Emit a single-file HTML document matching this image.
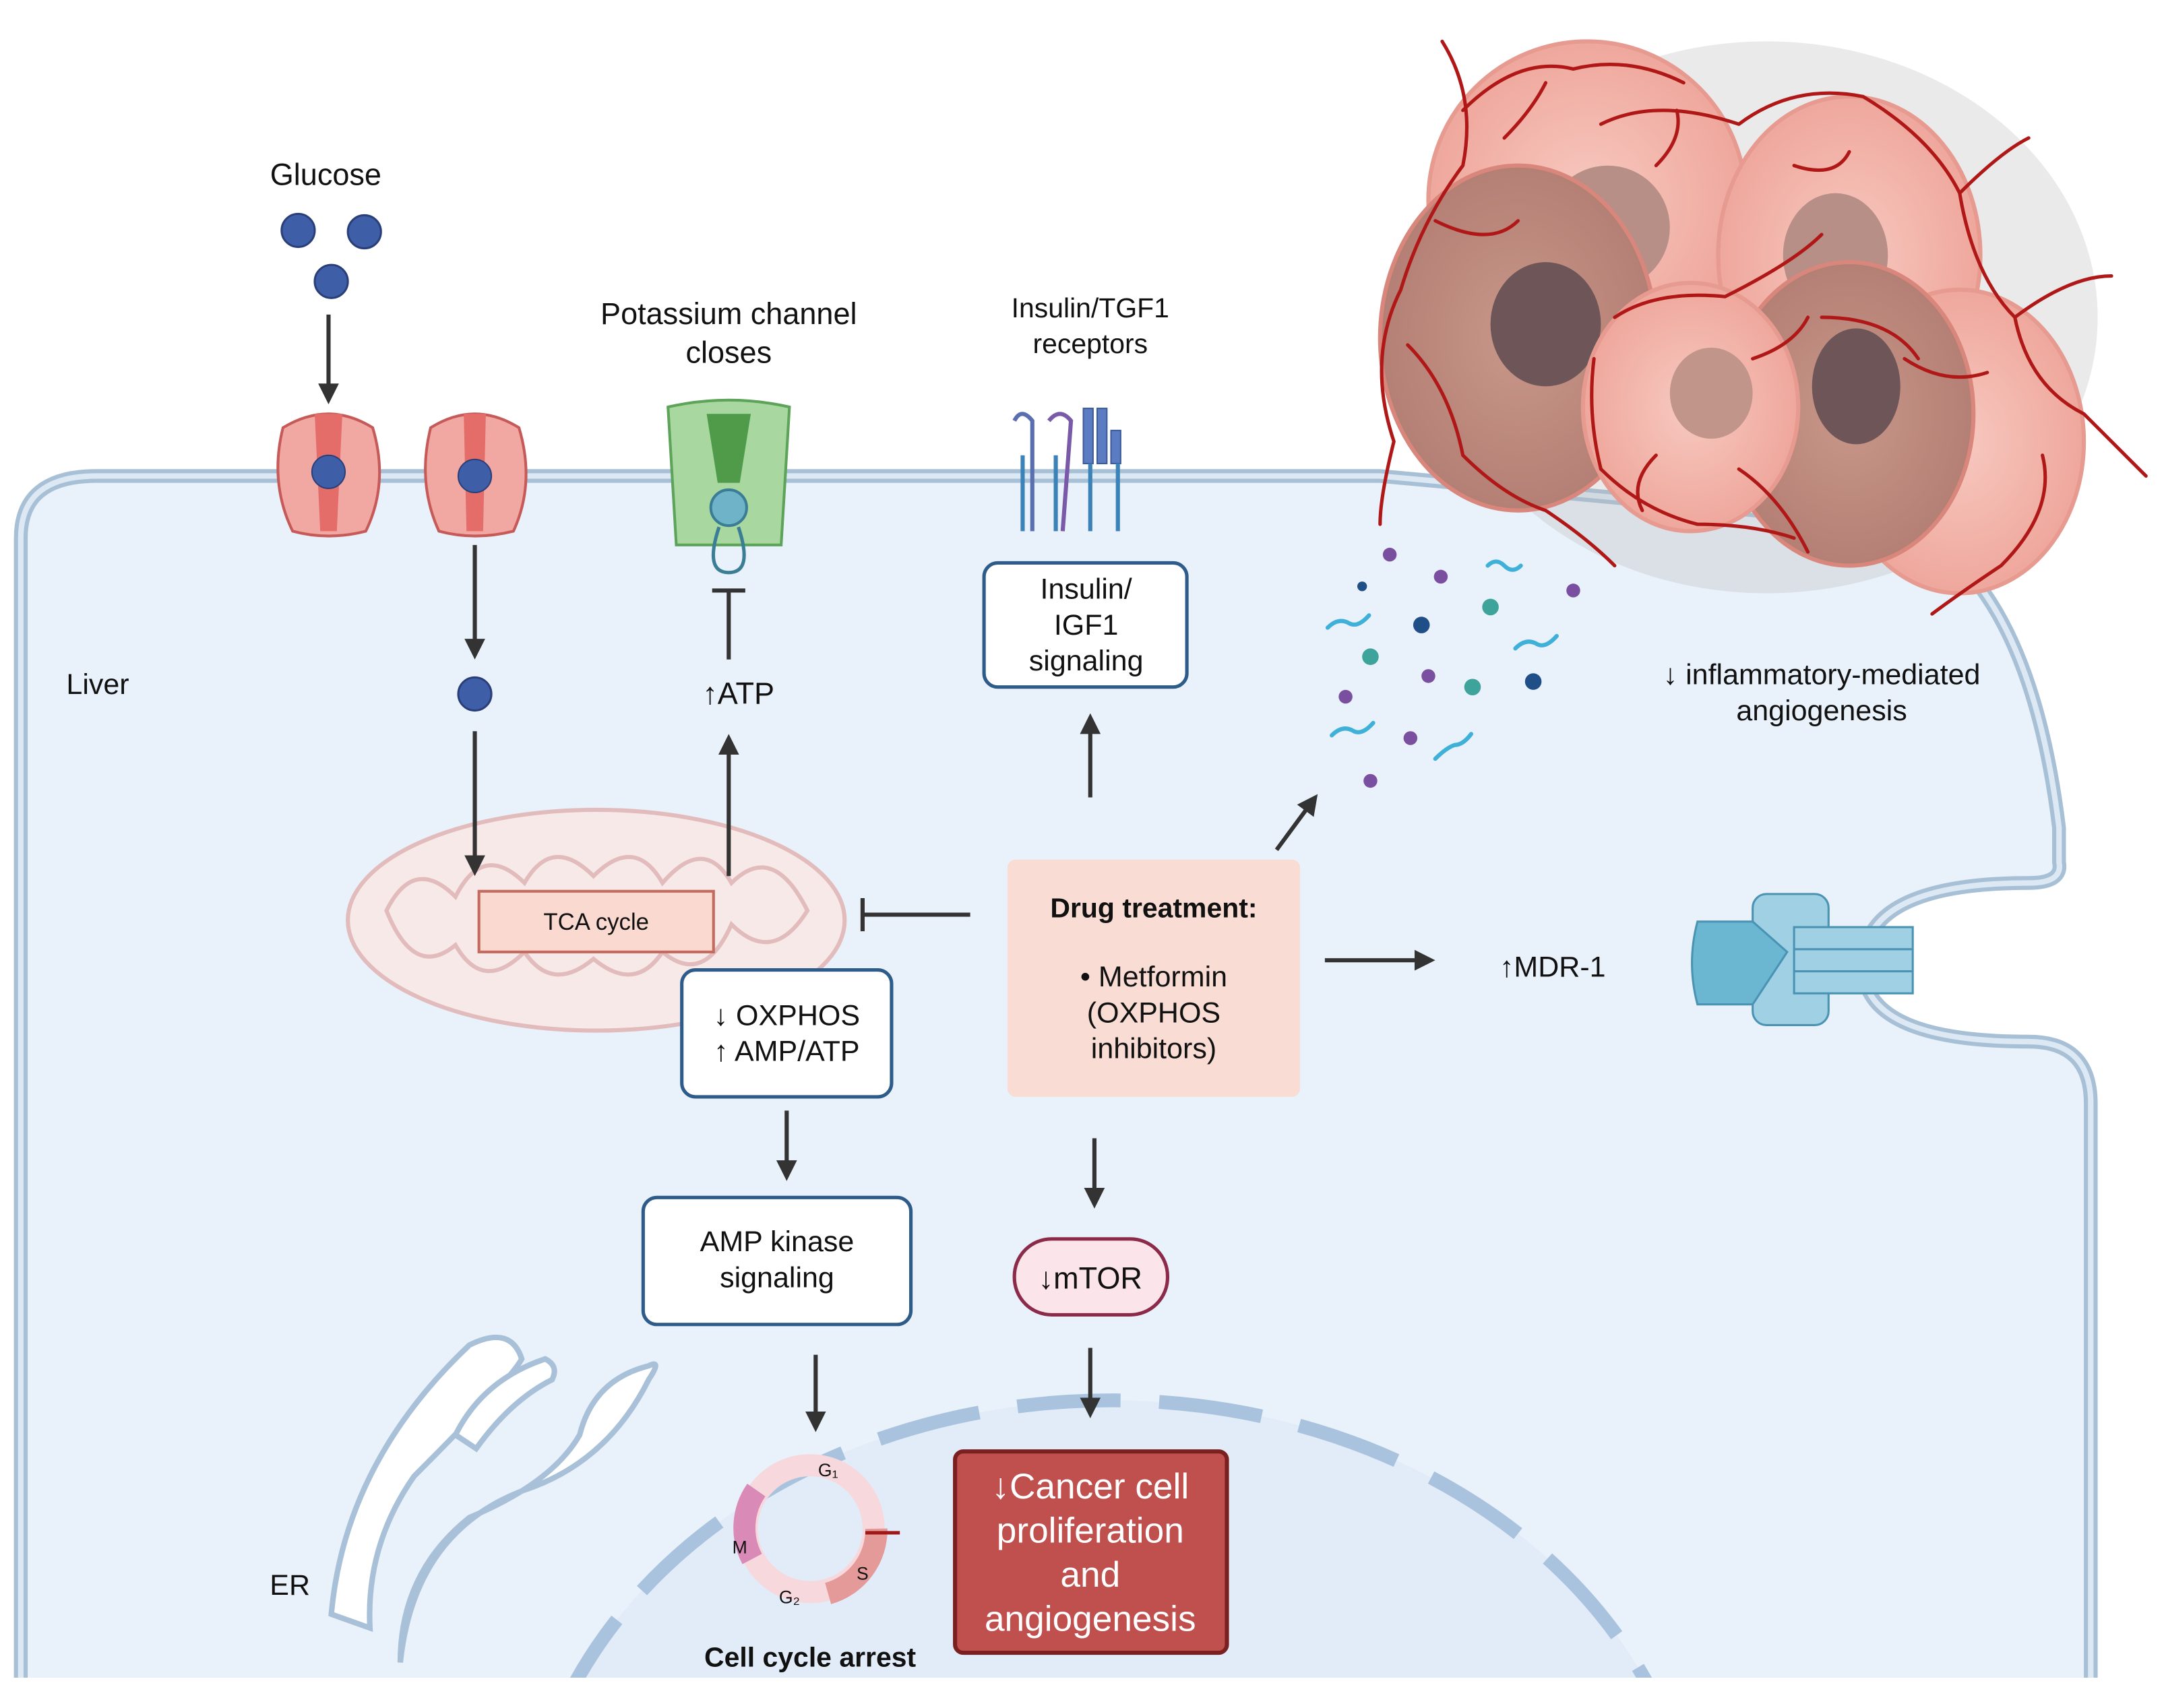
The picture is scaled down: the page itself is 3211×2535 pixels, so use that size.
<!DOCTYPE html>
<html><head><meta charset="utf-8"><style>
html,body{margin:0;padding:0;background:#fff;width:3211px;height:2535px;overflow:hidden}
svg{display:block}
text{font-family:"Liberation Sans",Arial,sans-serif;fill:#111}
</style></head><body>
<svg width="3211" height="2535" viewBox="0 0 1568 1238" xmlns="http://www.w3.org/2000/svg">
<defs>
<marker id="ah" viewBox="0 0 10 10" refX="8" refY="5" markerWidth="5" markerHeight="5" orient="auto"><path d="M0,0 L10,5 L0,10 z" fill="#333"/></marker>
<clipPath id="cellclip"><rect x="0" y="0" width="1568" height="1216"/></clipPath>
<radialGradient id="tc" cx="50%" cy="50%" r="50%"><stop offset="0" stop-color="#f7c9c0"/><stop offset="1" stop-color="#efa79c"/></radialGradient>
<radialGradient id="tcd" cx="50%" cy="50%" r="50%"><stop offset="0" stop-color="#c9978a"/><stop offset="1" stop-color="#b47f74"/></radialGradient>
</defs>
<g clip-path="url(#cellclip)">
<path d="M15,1240 L15,390 Q15,345 70,345 L1000,345 L1380,380 Q1470,420 1492,600 L1492,625 Q1495,640 1470,640 Q1350,640 1350,700 Q1350,755 1470,755 Q1515,755 1515,800 L1515,1240 Z" fill="#e9f1fa" stroke="#a7c0d6" stroke-width="10"/>
<path d="M15,1240 L15,390 Q15,345 70,345 L1000,345 L1380,380 Q1470,420 1492,600 L1492,625 Q1495,640 1470,640 Q1350,640 1350,700 Q1350,755 1470,755 Q1515,755 1515,800 L1515,1240" fill="none" stroke="#dce8f3" stroke-width="4"/>
<ellipse cx="805" cy="1360" rx="425" ry="345" fill="#e1ecf8" stroke="#a9c3de" stroke-width="10" stroke-dasharray="75 28"/>
<g fill="#fff" stroke="#a9c1d8" stroke-width="4">
<path d="M240,1170 Q250,1060 340,975 Q370,960 378,985 Q370,1000 300,1070 Q265,1120 268,1180 Z"/>
<path d="M290,1205 Q300,1110 380,1080 Q440,1060 470,1000 Q480,985 470,990 Q430,1000 420,1040 Q400,1075 340,1100 Q290,1140 290,1205 Z"/>
<path d="M330,1040 Q350,1000 395,985 Q405,990 400,1000 Q370,1015 345,1050 Z"/>
</g>
</g>
<!-- tumor -->
<g>
<ellipse cx="1280" cy="230" rx="240" ry="200" fill="#bbb" opacity="0.3"/>
<ellipse cx="1150" cy="145" rx="115" ry="115" fill="url(#tc)" stroke="#e79a8f" stroke-width="3"/>
<ellipse cx="1165" cy="165" rx="45" ry="45" fill="#b88f86"/>
<ellipse cx="1340" cy="185" rx="95" ry="115" fill="url(#tc)" stroke="#e79a8f" stroke-width="3"/>
<ellipse cx="1330" cy="185" rx="38" ry="45" fill="#b88f86"/>
<ellipse cx="1100" cy="245" rx="100" ry="125" fill="url(#tcd)" stroke="#d9877c" stroke-width="3"/>
<ellipse cx="1120" cy="235" rx="40" ry="45" fill="#6e5558"/>
<ellipse cx="1420" cy="320" rx="90" ry="110" fill="url(#tc)" stroke="#e79a8f" stroke-width="3"/>
<ellipse cx="1340" cy="300" rx="90" ry="110" fill="url(#tcd)" stroke="#d9877c" stroke-width="3"/>
<ellipse cx="1345" cy="280" rx="32" ry="42" fill="#6e5558"/>
<ellipse cx="1225" cy="295" rx="78" ry="90" fill="url(#tc)" stroke="#e79a8f" stroke-width="3"/>
<ellipse cx="1240" cy="285" rx="30" ry="33" fill="#c2958b"/>
<g fill="none" stroke="#b01818" stroke-width="2.5" stroke-linecap="round">
<path d="M1045,30 Q1070,70 1060,120 M1060,80 Q1100,40 1140,50 M1140,50 Q1180,40 1220,60 M1060,120 Q1030,160 1015,210 M1015,210 Q990,260 1010,320 M1010,320 Q1000,360 1000,380"/>
<path d="M1160,90 Q1200,70 1260,90 M1260,90 Q1300,60 1350,70 M1350,70 Q1400,100 1420,140 M1420,140 Q1450,110 1470,100 M1420,140 Q1430,200 1460,230"/>
<path d="M1460,230 Q1500,200 1530,200 M1460,230 Q1470,280 1510,300 M1510,300 Q1540,330 1555,345 M1480,330 Q1490,370 1450,410 M1450,410 Q1420,430 1400,445"/>
<path d="M1170,230 Q1200,210 1250,215 M1250,215 Q1300,190 1320,170 M1155,260 Q1150,300 1160,340 M1160,340 Q1190,370 1230,380 M1230,380 Q1270,380 1300,390"/>
<path d="M1020,250 Q1050,280 1060,330 M1060,330 Q1090,360 1120,370 M1120,370 Q1150,390 1170,410 M1040,160 Q1080,180 1100,160 M1260,340 Q1290,360 1310,400 M1320,230 Q1370,230 1390,260"/>
<path d="M1090,100 Q1110,80 1120,60 M1200,120 Q1220,100 1215,80 M1300,120 Q1330,130 1340,110 M1380,260 Q1410,280 1440,270 M1270,260 Q1300,250 1310,230 M1200,330 Q1180,350 1190,370"/>
</g>
</g>
<!-- mitochondrion -->
<ellipse cx="432" cy="667" rx="180" ry="80" fill="#f8e9e9" stroke="#e2bcbc" stroke-width="3"/>
<path d="M280,660 Q300,620 330,650 Q350,610 380,640 Q400,605 430,635 Q460,605 480,640 Q510,605 530,640 Q560,610 585,660 Q560,700 530,670 Q510,715 480,690 Q460,720 430,695 Q400,720 380,690 Q350,720 330,685 Q300,710 280,660Z" fill="none" stroke="#e2bcbc" stroke-width="3"/>
<rect x="347" y="646" width="170" height="44" fill="#f9d9d0" stroke="#c46a5e" stroke-width="2"/>
<text x="432" y="674" font-size="17" text-anchor="middle">TCA cycle</text>
<text x="236" y="134" font-size="22" text-anchor="middle">Glucose</text>
<g fill="#3f5ea8" stroke="#2a3f78" stroke-width="1.5">
<circle cx="216" cy="167" r="12"/><circle cx="264" cy="168" r="12"/><circle cx="240" cy="204" r="12"/>
<circle cx="344" cy="503" r="12"/>
</g>
<g stroke="#333" stroke-width="3" fill="none" marker-end="url(#ah)">
<line x1="238" y1="228" x2="238" y2="290"/>
<line x1="344" y1="395" x2="344" y2="475"/>
<line x1="344" y1="530" x2="344" y2="632"/>
<line x1="528" y1="635" x2="528" y2="535"/>
<line x1="790" y1="578" x2="790" y2="520"/>
<line x1="925" y1="616" x2="953" y2="578"/>
<line x1="960" y1="696" x2="1037" y2="696"/>
<line x1="570" y1="805" x2="570" y2="853"/>
<line x1="793" y1="825" x2="793" y2="873"/>
<line x1="591" y1="982" x2="591" y2="1035"/>
<line x1="790" y1="977" x2="790" y2="1025"/>
</g>
<g stroke="#333" stroke-width="3">
<line x1="528" y1="478" x2="528" y2="428"/><line x1="516" y1="428" x2="540" y2="428"/>
<line x1="703" y1="663" x2="625" y2="663"/><line x1="625" y1="651" x2="625" y2="675"/>
</g>
<g>
<path d="M205,310 Q238,290 270,310 Q282,350 265,385 Q238,392 212,385 Q195,350 205,310Z" fill="#f1a7a2" stroke="#c65a58" stroke-width="2"/>
<path d="M228,300 L248,300 L244,385 L232,385Z" fill="#e46c69"/>
<circle cx="238" cy="342" r="12" fill="#3f5ea8" stroke="#2a3f78"/>
<path d="M312,310 Q344,290 376,310 Q388,350 372,385 Q344,392 318,385 Q302,350 312,310Z" fill="#f1a7a2" stroke="#c65a58" stroke-width="2"/>
<path d="M336,300 L352,300 L350,385 L338,385Z" fill="#e46c69"/>
<circle cx="344" cy="345" r="12" fill="#3f5ea8" stroke="#2a3f78"/>
</g>
<text x="528" y="235" font-size="22" text-anchor="middle">Potassium channel</text>
<text x="528" y="263" font-size="22" text-anchor="middle">closes</text>
<path d="M484,295 Q528,285 572,295 L566,395 L490,395Z" fill="#a8d8a0" stroke="#5da35a" stroke-width="2"/>
<path d="M512,300 L544,300 L536,350 L520,350Z" fill="#4f9b4a"/>
<circle cx="528" cy="368" r="13" fill="#6fb3c8" stroke="#3a7d95" stroke-width="2"/>
<path d="M521,382 Q510,415 528,415 Q546,415 535,382" fill="none" stroke="#3a7d95" stroke-width="2.5"/>
<text x="535" y="510" font-size="22" text-anchor="middle">↑ATP</text>
<text x="790" y="230" font-size="20" text-anchor="middle">Insulin/TGF1</text>
<text x="790" y="256" font-size="20" text-anchor="middle">receptors</text>
<g stroke-width="3" fill="none">
<path d="M735,305 Q740,295 748,305 L748,385" stroke="#5a6fb0"/>
<path d="M760,305 Q768,295 776,305 L770,385" stroke="#7a5aa8"/>
<path d="M741,330 L741,385 M765,330 L765,385" stroke="#3b82b8"/>
<rect x="785" y="296" width="7" height="40" fill="#5b7bc2" stroke="#3b5a98" stroke-width="1"/>
<rect x="795" y="296" width="7" height="40" fill="#5b7bc2" stroke="#3b5a98" stroke-width="1"/>
<rect x="805" y="312" width="7" height="24" fill="#5b7bc2" stroke="#3b5a98" stroke-width="1"/>
<path d="M790,336 L790,385 M810,336 L810,385" stroke="#3b82b8"/>
</g>
<rect x="713" y="408" width="147" height="90" rx="10" fill="#fff" stroke="#2e5c8a" stroke-width="2.5"/>
<text x="787" y="434" font-size="21" text-anchor="middle">Insulin/</text>
<text x="787" y="460" font-size="21" text-anchor="middle">IGF1</text>
<text x="787" y="486" font-size="21" text-anchor="middle">signaling</text>
<text x="48" y="503" font-size="21">Liver</text>
<rect x="494" y="703" width="152" height="92" rx="10" fill="#fff" stroke="#2e5c8a" stroke-width="2.5"/>
<text x="570" y="743" font-size="21" text-anchor="middle">↓ OXPHOS</text>
<text x="570" y="769" font-size="21" text-anchor="middle">↑ AMP/ATP</text>
<rect x="466" y="868" width="194" height="92" rx="10" fill="#fff" stroke="#2e5c8a" stroke-width="2.5"/>
<text x="563" y="907" font-size="21" text-anchor="middle">AMP kinase</text>
<text x="563" y="933" font-size="21" text-anchor="middle">signaling</text>
<rect x="730" y="623" width="212" height="172" rx="6" fill="#f9dcd3"/>
<text x="836" y="665" font-size="20" font-weight="bold" text-anchor="middle">Drug treatment:</text>
<text x="836" y="715" font-size="21" text-anchor="middle">• Metformin</text>
<text x="836" y="741" font-size="21" text-anchor="middle">(OXPHOS</text>
<text x="836" y="767" font-size="21" text-anchor="middle">inhibitors)</text>
<rect x="735" y="898" width="111" height="55" rx="27" fill="#fbe4ea" stroke="#8c2a4a" stroke-width="2.5"/>
<text x="790" y="934" font-size="22" text-anchor="middle">↓mTOR</text>
<rect x="692" y="1052" width="197" height="146" rx="6" fill="#c0504d" stroke="#7a2020" stroke-width="3"/>
<g font-size="26" text-anchor="middle"><text x="790" y="1086" style="fill:#fff">↓Cancer cell</text><text x="790" y="1118" style="fill:#fff">proliferation</text><text x="790" y="1150" style="fill:#fff">and</text><text x="790" y="1182" style="fill:#fff">angiogenesis</text></g>
<circle cx="587" cy="1108" r="46" fill="none" stroke="#f7d8dc" stroke-width="16"/>
<path d="M635,1108 A48,48 0 0 1 600,1155" fill="none" stroke="#e59a9a" stroke-width="16"/>
<path d="M545,1130 A48,48 0 0 1 548,1080" fill="none" stroke="#d98ab6" stroke-width="16"/>
<line x1="627" y1="1111" x2="652" y2="1111" stroke="#a01818" stroke-width="2.5"/>
<text x="600" y="1070" font-size="13" text-anchor="middle">G₁</text>
<text x="625" y="1145" font-size="13" text-anchor="middle">S</text>
<text x="572" y="1162" font-size="13" text-anchor="middle">G₂</text>
<text x="536" y="1126" font-size="13" text-anchor="middle">M</text>
<text x="587" y="1208" font-size="20" font-weight="bold" text-anchor="middle">Cell cycle arrest</text>
<text x="210" y="1156" font-size="21" text-anchor="middle">ER</text>
<g fill="#7b4fa0"><circle cx="1007" cy="402" r="5"/><circle cx="1044" cy="418" r="5"/><circle cx="1140" cy="428" r="5"/><circle cx="1035" cy="490" r="5"/><circle cx="975" cy="505" r="5"/><circle cx="1022" cy="535" r="5"/><circle cx="993" cy="566" r="5"/></g>
<g fill="#1f4f86"><circle cx="987" cy="425" r="3.5"/><circle cx="1030" cy="453" r="6"/><circle cx="1111" cy="494" r="6"/></g>
<g fill="#3ea39a"><circle cx="1080" cy="440" r="6"/><circle cx="993" cy="476" r="6"/><circle cx="1067" cy="498" r="6"/></g>
<g fill="none" stroke="#3fb0d8" stroke-width="3" stroke-linecap="round">
<path d="M1078,410 q6,-6 12,0 q6,6 12,0"/><path d="M962,455 q8,-8 16,-3 q6,3 14,-6"/><path d="M1098,470 q8,-8 16,-3 q6,3 14,-6"/><path d="M965,533 q8,-8 16,-3 q6,3 14,-6"/><path d="M1040,550 q8,-8 14,-10 q6,0 12,-8"/>
</g>
<text x="1320" y="496" font-size="21" text-anchor="middle">↓ inflammatory-mediated</text>
<text x="1320" y="522" font-size="21" text-anchor="middle">angiogenesis</text>
<text x="1125" y="708" font-size="21" text-anchor="middle">↑MDR-1</text>
<g stroke="#4a93b3" stroke-width="1.5">
<rect x="1270" y="648" width="55" height="95" rx="10" fill="#9fd0e3"/>
<rect x="1300" y="672" width="86" height="48" fill="#9fd0e3"/>
<line x1="1300" y1="688" x2="1386" y2="688"/><line x1="1300" y1="704" x2="1386" y2="704"/>
<path d="M1230,668 L1270,668 L1295,690 L1270,728 L1230,728 Q1222,698 1230,668Z" fill="#6bb7d1"/>
</g>
</svg>
</body></html>
